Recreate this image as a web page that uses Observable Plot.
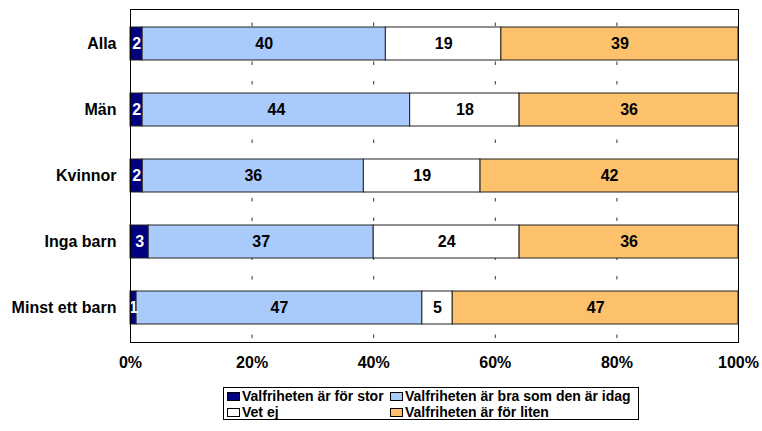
<!DOCTYPE html>
<html>
<head>
<meta charset="utf-8">
<script src="https://cdn.jsdelivr.net/npm/d3@7"></script>
<script src="https://cdn.jsdelivr.net/npm/@observablehq/plot@0.6"></script>
<style>
  html, body { margin: 0; padding: 0; background: #fff; }
  body { width: 762px; height: 431px; position: relative; font-family: "Liberation Sans", Arial, sans-serif; }
  #chart svg { display: block; }
  #legend {
    position: absolute; left: 223px; top: 387px; width: 414px; height: 31px;
    border: 1px solid #000; box-sizing: content-box;
    display: grid; grid-template-columns: 163px 1fr; grid-auto-rows: 16px;
    font-weight: bold; font-size: 14px; color: #000; line-height: 16px;
  }
  #legend .item { display: flex; align-items: center; padding-left: 3px; white-space: nowrap; }
  #legend .sw { width: 11px; height: 7px; border: 1px solid #000; margin-right: 2px; flex: none; }
</style>
</head>
<body>
<div id="chart"></div>
<div id="legend"></div>
<script>
const categories = ["Alla", "Män", "Kvinnor", "Inga barn", "Minst ett barn"];
const seriesNames = ["Valfriheten är för stor", "Valfriheten är bra som den är idag", "Vet ej", "Valfriheten är för liten"];
const seriesColors = ["#000080", "#a9cbfb", "#ffffff", "#fdc06b"];
const valuesStor = [2, 2, 2, 3, 1];
const valuesBra = [40, 44, 36, 37, 47];
const valuesVetEj = [19, 18, 19, 24, 5];
const valuesLiten = [39, 36, 42, 36, 47];
const xTicks = [0, 0.2, 0.4, 0.6, 0.8, 1];
const gridTicks = [0.2, 0.4, 0.6, 0.8];

const seriesValues = [valuesStor, valuesBra, valuesVetEj, valuesLiten];
const data = [];
categories.forEach((cat, i) => {
  seriesNames.forEach((s, j) => {
    data.push({cat, series: s, value: seriesValues[j][i]});
  });
});

const stackOpts = {x: "value", y: "cat", z: "series", offset: "normalize"};

const chart = Plot.plot({
  width: 762,
  height: 380,
  marginLeft: 130,
  marginRight: 24,
  marginTop: 9,
  marginBottom: 38,
  style: {fontFamily: "'Liberation Sans', Arial, sans-serif", fontSize: "16px", fontWeight: "bold", color: "#000", background: "#fff"},
  x: {domain: [0, 1], ticks: xTicks, tickFormat: d3.format(".0%"), tickSize: 0, tickPadding: 14, label: null},
  y: {domain: categories, paddingInner: 0.5, paddingOuter: 0.25, tickSize: 0, tickPadding: 14, label: null},
  color: {domain: seriesNames, range: seriesColors},
  marks: [
    Plot.ruleX(gridTicks, {stroke: "#333", strokeWidth: 1, strokeDasharray: "3.5,16", strokeDashoffset: 6}),
    Plot.barX(data, Plot.stackX({...stackOpts, fill: "series", stroke: "#222", strokeWidth: 1})),
    Plot.textX(data, Plot.filter(d => d.series !== seriesNames[0], Plot.stackX({...stackOpts, text: d => String(d.value), fill: "#000", fontSize: 16, fontWeight: "bold"}))),
    Plot.textX(data, Plot.filter(d => d.series === seriesNames[0], Plot.stackX({...stackOpts, text: d => String(d.value), fill: "#fff", fontSize: 16, fontWeight: "bold"}))),
    Plot.frame({stroke: "#000", strokeWidth: 1})
  ]
});
document.getElementById("chart").appendChild(chart);

const legend = document.getElementById("legend");
seriesNames.forEach((s, i) => {
  const item = document.createElement("div");
  item.className = "item";
  const sw = document.createElement("span");
  sw.className = "sw";
  sw.style.background = seriesColors[i];
  const label = document.createElement("span");
  label.textContent = s;
  item.appendChild(sw);
  item.appendChild(label);
  legend.appendChild(item);
});
</script>
</body>
</html>
